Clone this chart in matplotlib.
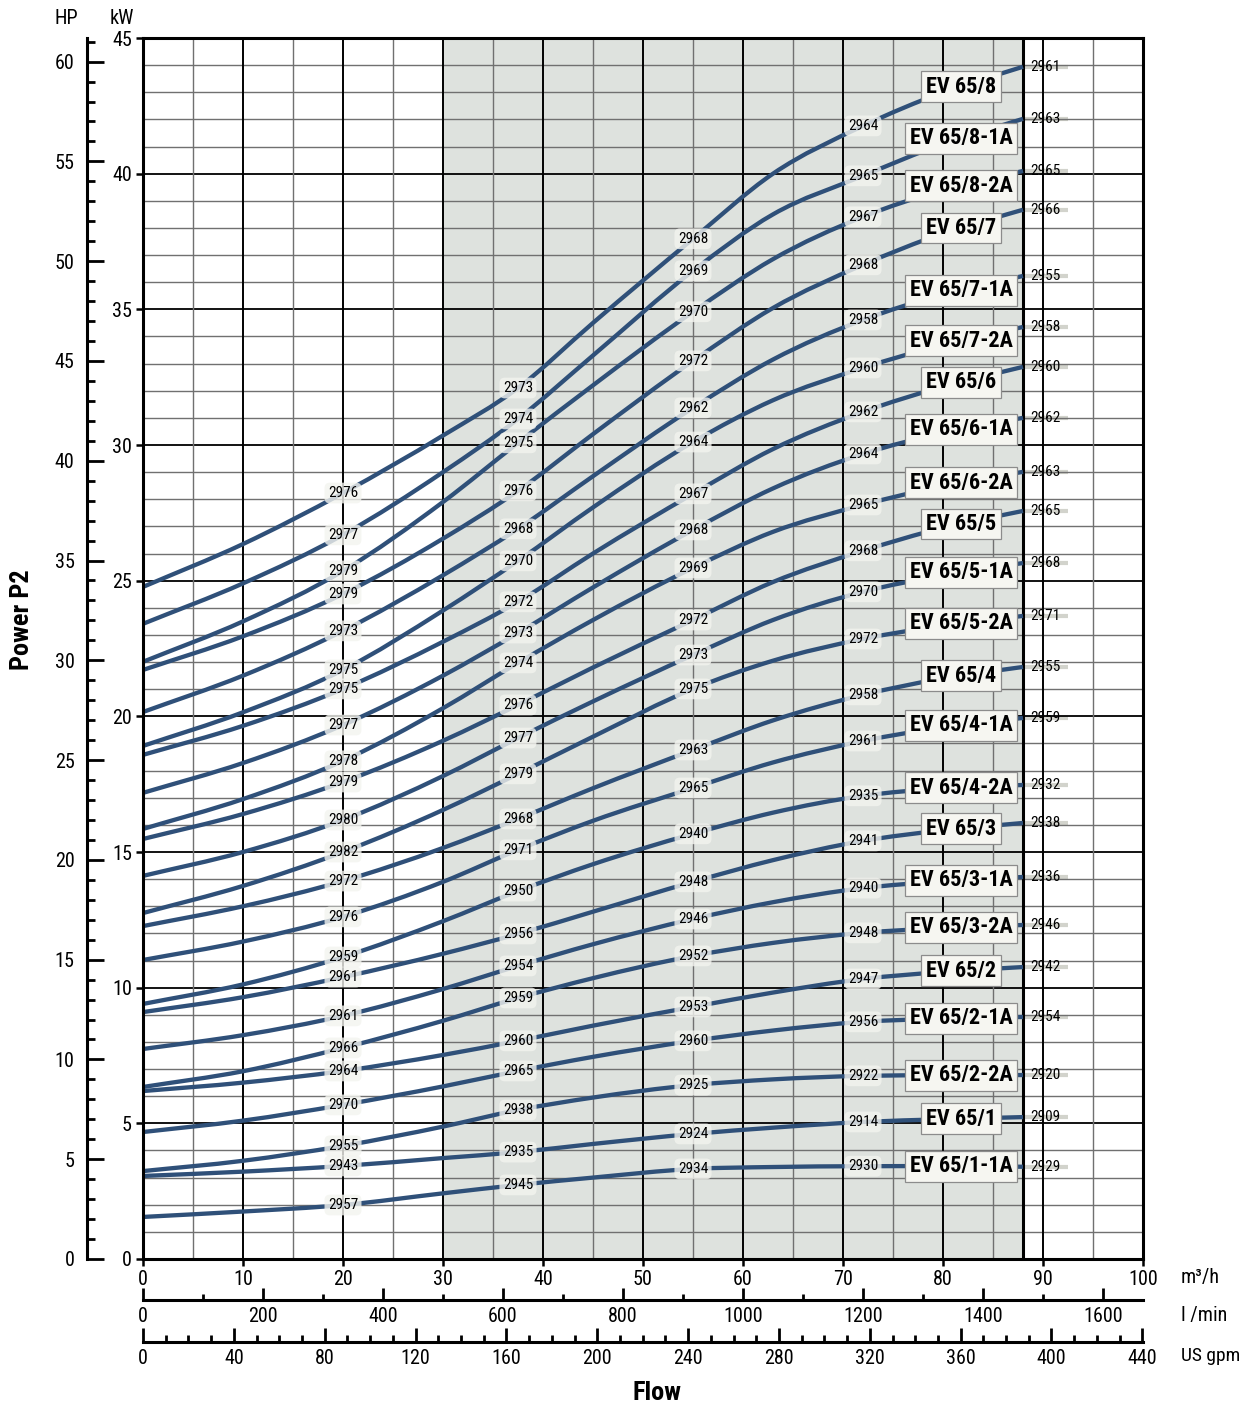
import numpy as np
import matplotlib
matplotlib.use("Agg")
import matplotlib.pyplot as plt
from matplotlib.path import Path
from matplotlib.patches import PathPatch

plt.rcParams['font.family'] = ['Roboto Condensed', 'Roboto', 'DejaVu Sans']

# flow points (m3/h) at which each power curve was read
flow = [0, 10, 20, 30, 37.5, 45, 55, 63, 72, 80, 88]

# power P2 in kW, one list per pump
ev_8 = [24.77, 26.35, 28.23, 30.35, 32.10, 34.50, 37.60, 40.00, 41.76, 43.00, 43.94]
ev_8_1a = [23.41, 24.90, 26.69, 29.00, 30.96, 33.30, 36.42, 38.50, 39.92, 41.10, 42.02]
ev_8_2a = [22.01, 23.50, 25.36, 27.90, 30.08, 32.20, 34.91, 36.85, 38.41, 39.40, 40.10]
ev_7 = [21.71, 22.95, 24.51, 26.55, 28.31, 30.40, 33.10, 35.05, 36.64, 37.80, 38.67]
ev_7_1a = [20.16, 21.50, 23.15, 25.20, 26.91, 28.85, 31.37, 33.15, 34.61, 35.55, 36.23]
ev_7_2a = [18.91, 20.15, 21.71, 23.90, 25.73, 27.70, 30.11, 31.65, 32.84, 33.70, 34.35]
ev_6 = [18.58, 19.65, 21.01, 22.75, 24.22, 26.00, 28.20, 29.85, 31.22, 32.15, 32.88]
ev_6_1a = [17.18, 18.28, 19.68, 21.50, 23.07, 24.75, 26.87, 28.40, 29.67, 30.45, 31.00]
ev_6_2a = [15.85, 16.95, 18.36, 20.30, 21.97, 23.55, 25.47, 26.80, 27.79, 28.50, 29.01]
ev_5 = [15.48, 16.40, 17.58, 19.10, 20.42, 21.80, 23.55, 24.95, 26.10, 26.95, 27.57]
ev_5_1a = [14.12, 15.00, 16.18, 17.80, 19.20, 20.55, 22.26, 23.55, 24.59, 25.20, 25.65]
ev_5_2a = [12.75, 13.75, 15.00, 16.55, 17.88, 19.25, 21.01, 22.05, 22.85, 23.35, 23.70]
ev_4 = [12.27, 13.00, 13.93, 15.15, 16.22, 17.35, 18.76, 19.85, 20.79, 21.40, 21.82]
ev_4_1a = [11.02, 11.70, 12.61, 13.90, 15.08, 16.15, 17.36, 18.30, 19.09, 19.60, 19.94]
ev_4_2a = [9.40, 10.12, 11.13, 12.45, 13.56, 14.55, 15.67, 16.45, 17.07, 17.35, 17.47]
ev_3 = [9.10, 9.65, 10.39, 11.25, 11.98, 12.80, 13.90, 14.70, 15.41, 15.80, 16.07]
ev_3_1a = [7.74, 8.25, 8.96, 9.95, 10.80, 11.60, 12.53, 13.15, 13.67, 13.92, 14.08]
ev_3_2a = [6.34, 6.92, 7.78, 8.78, 9.62, 10.35, 11.17, 11.65, 12.02, 12.20, 12.31]
ev_2 = [6.19, 6.50, 6.93, 7.52, 8.04, 8.60, 9.29, 9.82, 10.32, 10.58, 10.76]
ev_2_1a = [4.68, 5.10, 5.68, 6.36, 6.93, 7.45, 8.04, 8.42, 8.74, 8.86, 8.92]
ev_2_2a = [3.24, 3.62, 4.17, 4.88, 5.49, 5.95, 6.41, 6.62, 6.75, 6.77, 6.78]
ev_1 = [3.06, 3.22, 3.43, 3.72, 3.94, 4.24, 4.61, 4.84, 5.05, 5.15, 5.23]
ev_1_1a = [1.55, 1.75, 1.99, 2.42, 2.73, 3.00, 3.32, 3.39, 3.42, 3.42, 3.40]

models = ["EV 65/8", "EV 65/8-1A", "EV 65/8-2A", "EV 65/7", "EV 65/7-1A",
          "EV 65/7-2A", "EV 65/6", "EV 65/6-1A", "EV 65/6-2A", "EV 65/5",
          "EV 65/5-1A", "EV 65/5-2A", "EV 65/4", "EV 65/4-1A", "EV 65/4-2A",
          "EV 65/3", "EV 65/3-1A", "EV 65/3-2A", "EV 65/2", "EV 65/2-1A",
          "EV 65/2-2A", "EV 65/1", "EV 65/1-1A"]
curves = [ev_8, ev_8_1a, ev_8_2a, ev_7, ev_7_1a, ev_7_2a, ev_6, ev_6_1a,
          ev_6_2a, ev_5, ev_5_1a, ev_5_2a, ev_4, ev_4_1a, ev_4_2a, ev_3,
          ev_3_1a, ev_3_2a, ev_2, ev_2_1a, ev_2_2a, ev_1, ev_1_1a]

# motor speed (rpm) printed along each curve
rpm_q20 = [2976, 2977, 2979, 2979, 2973, 2975, 2975, 2977, 2978, 2979, 2980, 2982,
           2972, 2976, 2959, 2961, 2961, 2966, 2964, 2970, 2955, 2943, 2957]
rpm_q37 = [2973, 2974, 2975, 2976, 2968, 2970, 2972, 2973, 2974, 2976, 2977, 2979,
           2968, 2971, 2950, 2956, 2954, 2959, 2960, 2965, 2938, 2935, 2945]
rpm_q55 = [2968, 2969, 2970, 2972, 2962, 2964, 2967, 2968, 2969, 2972, 2973, 2975,
           2963, 2965, 2940, 2948, 2946, 2952, 2953, 2960, 2925, 2924, 2934]
rpm_q72 = [2964, 2965, 2967, 2968, 2958, 2960, 2962, 2964, 2965, 2968, 2970, 2972,
           2958, 2961, 2935, 2941, 2940, 2948, 2947, 2956, 2922, 2914, 2930]
rpm_end = [2961, 2963, 2965, 2966, 2955, 2958, 2960, 2962, 2963, 2965, 2968, 2971,
           2955, 2959, 2932, 2938, 2936, 2946, 2942, 2954, 2920, 2909, 2929]

KW_PER_HP = 0.7355
LMIN_PER_M3H = 1000 / 60
GPM_PER_M3H = 1000 / 60 / 3.785411784

W_PX, H_PX = 1248, 1407
L, R, T, B = 143, 1143, 38, 1259
line_col = "#2f5079"


def smooth_path(x, y):
    """Cubic Hermite path through the read points (bezier segments)."""
    x = np.asarray(x, float)
    y = np.asarray(y, float)
    m = np.gradient(y, x)
    verts = [(x[0], y[0])]
    codes = [Path.MOVETO]
    for i in range(len(x) - 1):
        h = x[i + 1] - x[i]
        verts += [(x[i] + h / 3, y[i] + m[i] * h / 3),
                  (x[i + 1] - h / 3, y[i + 1] - m[i + 1] * h / 3),
                  (x[i + 1], y[i + 1])]
        codes += [Path.CURVE4] * 3
    return Path(verts, codes)


fig = plt.figure(figsize=(W_PX / 100, H_PX / 100), dpi=100)
ax = fig.add_axes([L / W_PX, 1 - B / H_PX, (R - L) / W_PX, (B - T) / H_PX])
ax.set_xlim(0, 100)
ax.set_ylim(0, 45)

# shaded working range
ax.axvspan(30, 88, color="#dee2de", zorder=0, lw=0)

# grid
for k in range(1, 45):
    if k % 5 == 0:
        ax.axhline(k, color="black", lw=1.3, zorder=2)
    else:
        ax.axhline(k, color="#707070", lw=1.0, zorder=2)
for q in range(5, 100, 5):
    if q % 10 == 0:
        ax.axvline(q, color="black", lw=1.4, zorder=2)
    else:
        ax.axvline(q, color="#707070", lw=1.0, zorder=2)
ax.axvline(88, color="black", lw=2.2, zorder=2)

for sp in ax.spines.values():
    sp.set_linewidth(2.2)
    sp.set_zorder(5)

label_box = dict(boxstyle="round,pad=0.22,rounding_size=0.35", fc="#f3f4ef",
                 ec="none", alpha=0.8)
model_box = dict(boxstyle="square,pad=0.2", fc="#f6f6f1", ec="#8c8c8c", lw=0.9)

label_idx = [2, 4, 6, 8]
for i, (name, p) in enumerate(zip(models, curves)):
    ax.add_patch(PathPatch(smooth_path(flow, p), fill=False, ec=line_col,
                           lw=3.1, capstyle="butt", zorder=3))
    for j, rpm in zip(label_idx, [rpm_q20[i], rpm_q37[i], rpm_q55[i], rpm_q72[i]]):
        ax.text(flow[j], p[j], str(rpm), ha="center", va="center", fontsize=11,
                bbox=label_box, zorder=4)
    # end label with light strip
    ax.plot([88, 92.5], [p[-1], p[-1]], color="#d2d3cc", lw=3, zorder=1,
            solid_capstyle="butt")
    ax.text(90.2, p[-1], str(rpm_end[i]), ha="center", va="center",
            fontsize=11, zorder=4)
    ax.text(81.8, np.interp(81.8, flow, p), name, ha="center", va="center",
            fontsize=16, fontweight="bold", bbox=model_box, zorder=4)

ax.set_xticks(range(0, 101, 10))
ax.set_yticks(range(0, 46, 5))
ax.tick_params(axis="both", direction="out", length=5, width=1.8, labelsize=14.5,
               pad=3)

# HP scale
ax_hp = fig.add_axes([87 / W_PX, 1 - B / H_PX, 0.0005, (B - T) / H_PX])
ax_hp.set_ylim(0, 45 / KW_PER_HP)
ax_hp.patch.set_visible(False)
for s in ["top", "right", "bottom"]:
    ax_hp.spines[s].set_visible(False)
ax_hp.spines["left"].set_linewidth(2.2)
ax_hp.set_xticks([])
ax_hp.set_yticks(range(0, 61, 5))
ax_hp.set_yticks(range(0, 62, 1), minor=True)
ax_hp.tick_params(axis="y", which="major", direction="in", length=12, width=2,
                  labelsize=14.5, pad=9)
ax_hp.tick_params(axis="y", which="minor", direction="in", length=6, width=2)

# l/min scale
ax_l = fig.add_axes([L / W_PX, 1 - 1300 / H_PX, (R - L) / W_PX, 0.0001])
ax_l.set_xlim(0, 100 * LMIN_PER_M3H)
ax_l.patch.set_visible(False)
for s in ["top", "right", "left"]:
    ax_l.spines[s].set_visible(False)
ax_l.spines["bottom"].set_linewidth(2.2)
ax_l.set_yticks([])
ax_l.set_xticks(range(0, 1601, 200))
ax_l.set_xticks(range(0, 1601, 100), minor=True)
ax_l.tick_params(axis="x", which="major", direction="in", length=9, width=2,
                 labelsize=14.5, pad=5)
ax_l.tick_params(axis="x", which="minor", direction="in", length=4, width=2)

# US gpm scale
ax_g = fig.add_axes([L / W_PX, 1 - 1342 / H_PX, (R - L) / W_PX, 0.0001])
ax_g.set_xlim(0, 100 * GPM_PER_M3H)
ax_g.patch.set_visible(False)
for s in ["top", "right", "left"]:
    ax_g.spines[s].set_visible(False)
ax_g.spines["bottom"].set_linewidth(2.2)
ax_g.set_yticks([])
ax_g.set_xticks(range(0, 441, 40))
ax_g.set_xticks(range(0, 441, 10), minor=True)
ax_g.tick_params(axis="x", which="major", direction="in", length=10, width=2,
                 labelsize=14.5, pad=5)
ax_g.tick_params(axis="x", which="minor", direction="in", length=5, width=2)


def fx(px):
    return px / W_PX


def fy(py):
    return 1 - py / H_PX


fig.text(fx(66), fy(18), "HP", ha="center", va="center", fontsize=14.5)
fig.text(fx(122), fy(18), "kW", ha="center", va="center", fontsize=14.5)
fig.text(fx(1181), fy(1278), "m³/h", ha="left", va="center", fontsize=14.5)
fig.text(fx(1181), fy(1316), "l /min", ha="left", va="center", fontsize=14.5)
fig.text(fx(1181), fy(1356), "US gpm", ha="left", va="center", fontsize=14)
fig.text(fx(657), fy(1393), "Flow", ha="center", va="center", fontsize=19,
         fontweight="bold")
fig.text(fx(22), fy(620), "Power P2", ha="center", va="center", fontsize=19,
         fontweight="bold", rotation=90)

fig.savefig("out.png", dpi=100)
